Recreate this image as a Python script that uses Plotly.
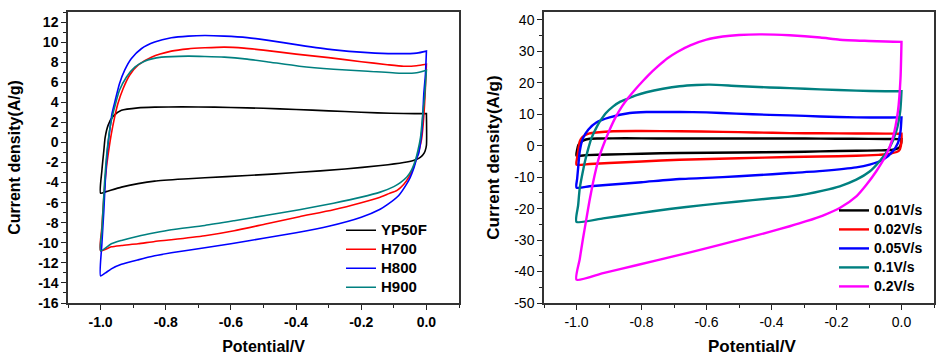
import plotly.graph_objects as go

# ---------------- Left panel data (CV of samples) ----------------
yp50f_up_x = [-1.0, -0.996, -0.99, -0.986, -0.977, -0.962, -0.936, -0.885, -0.834, -0.75, -0.65, -0.55, -0.45, -0.35, -0.25, -0.15, -0.07, 0.0]
yp50f_up_y = [-5.05, -2.8, -0.8, 0.5, 1.7, 2.6, 3.2, 3.45, 3.52, 3.55, 3.52, 3.45, 3.35, 3.22, 3.08, 2.95, 2.88, 2.87]
yp50f_dn_x = [0.0, 0.0, -0.004, -0.01, -0.018, -0.028, -0.04, -0.07, -0.14, -0.25, -0.4, -0.55, -0.68, -0.731, -0.834, -0.885, -0.936, -0.983, -1.0]
yp50f_dn_y = [2.87, -0.3, -0.85, -1.2, -1.46, -1.65, -1.8, -2.0, -2.3, -2.65, -3.0, -3.3, -3.52, -3.62, -3.85, -4.1, -4.45, -4.9, -5.05]

h700_up_x = [-1.0, -0.996, -0.99, -0.983, -0.975, -0.967, -0.957, -0.947, -0.931, -0.911, -0.885, -0.844, -0.783, -0.731, -0.68, -0.62, -0.56, -0.5, -0.4, -0.3, -0.2, -0.12, -0.07, -0.03, 0.0]
h700_up_y = [-10.8, -8.4, -5.45, -2.8, -0.8, 0.86, 2.5, 3.85, 5.35, 6.7, 7.7, 8.5, 9.1, 9.33, 9.43, 9.5, 9.4, 9.2, 8.8, 8.45, 8.05, 7.75, 7.6, 7.65, 7.8]
h700_dn_x = [0.0, -0.003, -0.006, -0.01, -0.015, -0.022, -0.029, -0.04, -0.054, -0.07, -0.09, -0.115, -0.142, -0.2, -0.285, -0.39, -0.49, -0.59, -0.68, -0.783, -0.834, -0.885, -0.936, -0.967, -1.0]
h700_dn_y = [7.8, 5.5, 3.6, 1.8, 0.3, -0.7, -1.46, -2.5, -3.45, -4.2, -4.78, -5.1, -5.45, -6.0, -6.7, -7.4, -8.1, -8.8, -9.3, -9.7, -9.87, -10.1, -10.27, -10.4, -10.8]

h800_up_x = [-1.0, -0.996, -0.99, -0.985, -0.979, -0.972, -0.965, -0.955, -0.942, -0.926, -0.906, -0.875, -0.834, -0.783, -0.731, -0.68, -0.62, -0.55, -0.49, -0.39, -0.29, -0.18, -0.1, -0.03, 0.0]
h800_up_y = [-13.3, -10.1, -6.8, -3.5, -0.8, 1.2, 2.86, 4.2, 5.85, 7.2, 8.34, 9.34, 10.0, 10.43, 10.6, 10.66, 10.6, 10.45, 10.2, 9.7, 9.25, 8.95, 8.85, 8.9, 9.1]
h800_dn_x = [0.0, -0.003, -0.008, -0.013, -0.018, -0.024, -0.03, -0.039, -0.05, -0.06, -0.085, -0.12, -0.142, -0.2, -0.3, -0.4, -0.5, -0.6, -0.68, -0.783, -0.834, -0.885, -0.936, -0.967, -0.985, -1.0]
h800_dn_y = [9.1, 6.8, 4.86, 1.53, 0.0, -1.12, -1.6, -2.6, -3.5, -4.1, -5.28, -6.2, -6.65, -7.45, -8.35, -9.0, -9.55, -10.1, -10.5, -11.0, -11.3, -11.7, -12.15, -12.6, -13.0, -13.3]

h900_up_x = [-1.0, -0.996, -0.988, -0.98, -0.969, -0.957, -0.942, -0.921, -0.895, -0.865, -0.813, -0.731, -0.68, -0.62, -0.55, -0.49, -0.39, -0.285, -0.18, -0.08, -0.03, 0.0]
h900_up_y = [-10.8, -8.8, -4.1, -0.8, 1.86, 3.5, 5.2, 6.5, 7.5, 8.1, 8.5, 8.6, 8.57, 8.5, 8.3, 8.05, 7.6, 7.3, 7.1, 6.9, 6.95, 7.2]
h900_dn_x = [0.0, -0.003, -0.006, -0.01, -0.018, -0.026, -0.034, -0.045, -0.06, -0.08, -0.1, -0.142, -0.2, -0.285, -0.39, -0.49, -0.59, -0.68, -0.783, -0.834, -0.885, -0.936, -0.967, -1.0]
h900_dn_y = [7.2, 5.8, 4.4, 3.2, 0.53, -0.8, -1.8, -2.7, -3.45, -4.0, -4.4, -4.95, -5.45, -6.05, -6.7, -7.25, -7.8, -8.27, -8.7, -9.0, -9.34, -9.77, -10.1, -10.8]

# ---------------- Right panel data (scan rates) ----------------
r001_up_x = [-1.0, -0.998, -0.994, -0.988, -0.98, -0.96, -0.93, -0.85, -0.75, -0.65, -0.55, -0.45, -0.344, -0.25, -0.15, -0.05, -0.01, 0.0]
r001_up_y = [-3.2, -1.3, 0.3, 1.0, 1.6, 2.2, 2.3, 2.35, 2.3, 2.3, 2.3, 2.3, 2.3, 2.25, 2.2, 2.15, 2.1, 2.1]
r001_dn_x = [0.0, -0.001, -0.006, -0.027, -0.07, -0.139, -0.25, -0.344, -0.5, -0.683, -0.8, -0.9, -0.97, -1.0]
r001_dn_y = [2.1, 0.85, -0.5, -1.3, -1.5, -1.6, -1.8, -2.0, -2.15, -2.3, -2.55, -2.8, -3.0, -3.2]

r002_up_x = [-1.0, -0.998, -0.995, -0.99, -0.983, -0.974, -0.96, -0.939, -0.887, -0.8, -0.683, -0.55, -0.45, -0.344, -0.25, -0.139, -0.05, -0.01, 0.0]
r002_up_y = [-6.0, -3.8, -1.8, 1.4, 2.6, 3.3, 3.9, 4.2, 4.6, 4.65, 4.6, 4.4, 4.2, 4.0, 3.95, 3.9, 3.85, 3.8, 3.8]
r002_dn_x = [0.0, 0.0, -0.006, -0.015, -0.027, -0.037, -0.07, -0.139, -0.25, -0.344, -0.5, -0.683, -0.8, -0.9, -0.96, -1.0]
r002_dn_y = [3.8, 1.4, -1.3, -2.0, -2.3, -2.65, -2.9, -3.2, -3.45, -3.6, -4.0, -4.45, -5.0, -5.5, -5.8, -6.0]

r005_up_x = [-1.0, -0.998, -0.995, -0.99, -0.98, -0.964, -0.939, -0.898, -0.836, -0.785, -0.683, -0.6, -0.509, -0.406, -0.344, -0.25, -0.139, -0.05, -0.01, 0.0]
r005_up_y = [-13.3, -10.5, -7.1, -1.8, 2.4, 5.1, 7.4, 9.0, 10.4, 10.7, 10.7, 10.6, 10.2, 9.8, 9.65, 9.3, 9.0, 8.95, 9.0, 9.0]
r005_dn_x = [0.0, -0.003, -0.011, -0.027, -0.057, -0.098, -0.139, -0.242, -0.344, -0.45, -0.55, -0.683, -0.8, -0.9, -0.96, -1.0]
r005_dn_y = [9.0, 4.6, 0.85, -1.8, -4.45, -6.0, -6.9, -8.0, -8.7, -9.4, -10.0, -10.6, -11.6, -12.4, -12.9, -13.3]

r01_up_x = [-1.0, -0.995, -0.99, -0.982, -0.974, -0.964, -0.954, -0.94, -0.928, -0.91, -0.887, -0.865, -0.841, -0.815, -0.785, -0.734, -0.683, -0.63, -0.59, -0.509, -0.406, -0.344, -0.25, -0.139, -0.05, 0.0]
r01_up_y = [-24.2, -19.0, -13.5, -9.0, -5.0, -1.0, 2.4, 5.5, 7.7, 10.3, 12.5, 14.0, 15.0, 16.1, 17.0, 18.1, 18.9, 19.3, 19.4, 19.0, 18.5, 18.3, 17.9, 17.5, 17.3, 17.3]
r01_dn_x = [0.0, -0.004, -0.016, -0.037, -0.068, -0.098, -0.139, -0.19, -0.242, -0.293, -0.344, -0.406, -0.509, -0.611, -0.714, -0.816, -0.918, -1.0]
r01_dn_y = [17.3, 10.9, 4.6, -0.7, -5.0, -8.2, -10.8, -12.9, -14.3, -15.4, -16.2, -16.8, -17.8, -18.9, -20.1, -21.6, -23.1, -24.2]

r02_up_x = [-1.0, -0.99, -0.98, -0.97, -0.96, -0.95, -0.94, -0.93, -0.918, -0.9, -0.88, -0.86, -0.84, -0.82, -0.8, -0.78, -0.75, -0.72, -0.69, -0.65, -0.6, -0.55, -0.5, -0.437, -0.344, -0.25, -0.19, -0.1, -0.048, 0.0]
r02_up_y = [-42.6, -36.0, -29.5, -23.5, -17.5, -12.2, -7.5, -3.5, 0.0, 4.6, 9.0, 12.5, 15.3, 17.8, 20.1, 22.3, 25.2, 27.8, 29.8, 31.9, 33.7, 34.7, 35.2, 35.4, 35.1, 34.4, 33.7, 33.3, 33.1, 33.0]
r02_dn_x = [0.0, -0.003, -0.011, -0.027, -0.047, -0.078, -0.108, -0.139, -0.19, -0.242, -0.293, -0.344, -0.406, -0.509, -0.611, -0.683, -0.816, -0.918, -1.0]
r02_dn_y = [33.0, 21.5, 10.9, 2.4, -2.9, -8.2, -12.4, -16.1, -19.8, -22.2, -24.0, -25.6, -27.4, -30.2, -32.9, -34.7, -38.0, -40.5, -42.6]

left_names = ["YP50F", "H700", "H800", "H900"]
right_names = ["0.01V/s", "0.02V/s", "0.05V/s", "0.1V/s", "0.2V/s"]

x_tick_vals = [-1.0, -0.8, -0.6, -0.4, -0.2, 0.0]
x_tick_text = ["-1.0", "-0.8", "-0.6", "-0.4", "-0.2", "0.0"]
left_y_tick_vals = [-16, -14, -12, -10, -8, -6, -4, -2, 0, 2, 4, 6, 8, 10, 12]
left_y_tick_text = ["-16", "-14", "-12", "-10", "-8", "-6", "-4", "-2", "0", "2", "4", "6", "8", "10", "12"]
right_y_tick_vals = [-50, -40, -30, -20, -10, 0, 10, 20, 30, 40]
right_y_tick_text = ["-50", "-40", "-30", "-20", "-10", "0", "10", "20", "30", "40"]

x_title = "Potential/V"
y_title = "Current density(A/g)"

left_colors = ["#000000", "#FF0000", "#0000FF", "#008080"]
right_colors = ["#000000", "#FF0000", "#0000FF", "#008080", "#FF00FF"]

FONT = "Liberation Sans, Arial, sans-serif"

left_series = [
    (yp50f_up_x + yp50f_dn_x, yp50f_up_y + yp50f_dn_y),
    (h700_up_x + h700_dn_x, h700_up_y + h700_dn_y),
    (h800_up_x + h800_dn_x, h800_up_y + h800_dn_y),
    (h900_up_x + h900_dn_x, h900_up_y + h900_dn_y),
]
right_series = [
    (r001_up_x + r001_dn_x, r001_up_y + r001_dn_y),
    (r002_up_x + r002_dn_x, r002_up_y + r002_dn_y),
    (r005_up_x + r005_dn_x, r005_up_y + r005_dn_y),
    (r01_up_x + r01_dn_x, r01_up_y + r01_dn_y),
    (r02_up_x + r02_dn_x, r02_up_y + r02_dn_y),
]

fig = go.Figure()
for (xs, ys), name, col in zip(left_series, left_names, left_colors):
    fig.add_trace(go.Scatter(x=xs, y=ys, mode="lines",
                             name='<span style="font-size:15px">' + name + '</span>',
                             line=dict(color=col, width=1.6, shape="spline", smoothing=0.6),
                             xaxis="x", yaxis="y", legend="legend"))
for (xs, ys), name, col in zip(right_series, right_names, right_colors):
    fig.add_trace(go.Scatter(x=xs, y=ys, mode="lines",
                             name='<span style="font-size:14px">' + name + '</span>',
                             line=dict(color=col, width=2.4, shape="spline", smoothing=0.6),
                             xaxis="x2", yaxis="y2", legend="legend2"))

def xax(domain, anchor, bold, title):
    d = dict(domain=domain, anchor=anchor, range=[-1.1, 0.1],
             tickmode="array", tickvals=x_tick_vals, ticktext=x_tick_text,
             ticks="outside", ticklen=5, tickwidth=1.3, tickcolor="#222",
             minor=dict(tickmode="linear", tick0=-1.1, dtick=0.1, ticks="outside", ticklen=3, tickwidth=1.3, tickcolor="#222"),
             showline=True, linewidth=1.5, linecolor="#333", mirror=True,
             showgrid=False, zeroline=False,
             tickfont=dict(family=FONT, size=14, color="black", weight="bold" if bold else "normal"))
    if title:
        d["title"] = dict(text=x_title, font=dict(family=FONT, size=16, color="black", weight="bold"), standoff=12)
    return d

def yax(domain_anchor, vals, text, rng, minor_dtick, bold, standoff):
    return dict(domain=[0, 1], anchor=domain_anchor, range=rng,
                tickmode="array", tickvals=vals, ticktext=text,
                ticks="outside", ticklen=5, tickwidth=1.3, tickcolor="#222",
                minor=dict(tickmode="linear", tick0=0, dtick=minor_dtick, ticks="outside", ticklen=3, tickwidth=1.3, tickcolor="#222"),
                showline=True, linewidth=1.5, linecolor="#333", mirror=True,
                showgrid=False, zeroline=False,
                tickfont=dict(family=FONT, size=14, color="black", weight="bold" if bold else "normal"),
                title=dict(text=y_title, font=dict(family=FONT, size=16 if bold else 17, color="black", weight="bold"), standoff=standoff))

fig.update_layout(
    width=939, height=360,
    margin=dict(l=0, r=0, t=12, b=57),
    paper_bgcolor="white", plot_bgcolor="white",
    font=dict(family=FONT, color="black"),
    xaxis=xax([68 / 939, 459 / 939], "y", True, True),
    yaxis=yax("x", left_y_tick_vals, left_y_tick_text, [-16, 13], 1, True, 14),
    xaxis2=xax([544 / 939, 934 / 939], "y2", False, False),
    yaxis2=yax("x2", right_y_tick_vals, right_y_tick_text, [-50, 42.5], 5, False, 10),
    legend=dict(x=341 / 939, y=0.30, xanchor="left", yanchor="top",
                bgcolor="rgba(0,0,0,0)", borderwidth=0, tracegroupgap=0,
                font=dict(family=FONT, size=12.3, color="black", weight="bold")),
    legend2=dict(x=834 / 939, y=0.368, xanchor="left", yanchor="top",
                 bgcolor="rgba(0,0,0,0)", borderwidth=0, tracegroupgap=0,
                 font=dict(family=FONT, size=12, color="black", weight="bold")),
    showlegend=True,
    annotations=[dict(text=x_title, xref="paper", yref="paper",
                      x=752 / 939, y=1 - (346 - 12) / 291, xanchor="center", yanchor="middle",
                      showarrow=False, font=dict(family=FONT, size=17, color="black", weight="bold"))],
)

fig.write_html("out.html", config={"displayModeBar": False},
               post_script="document.body.style.margin='0';document.body.style.padding='0';")
